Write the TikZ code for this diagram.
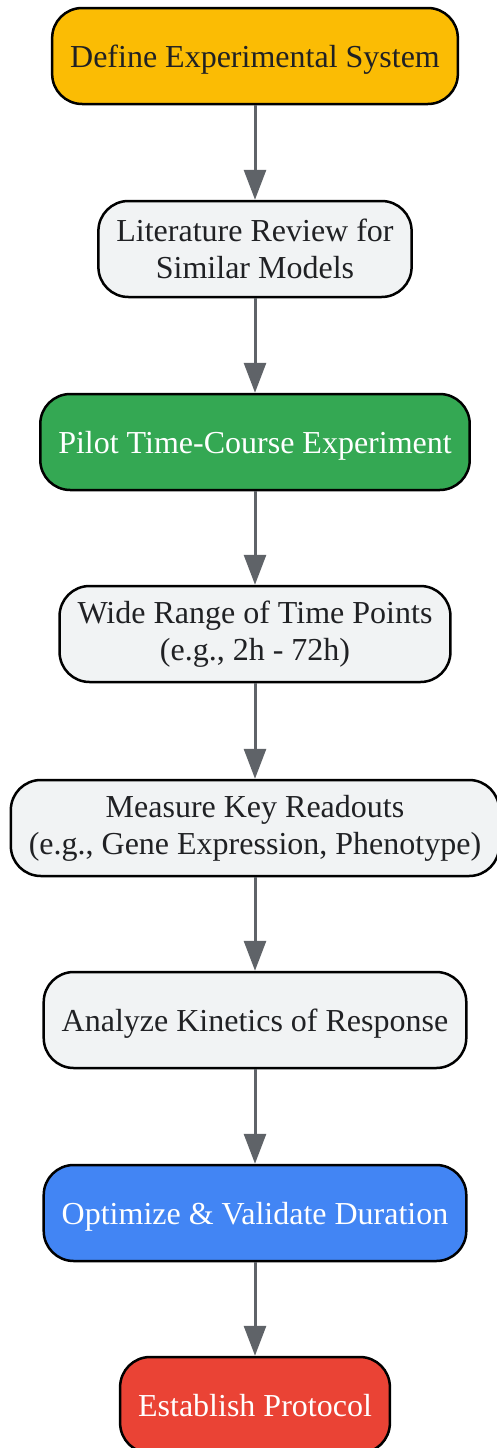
\documentclass[tikz,border=0pt]{standalone}
\usepackage{xcolor}
\usepackage{fontspec}
\setmainfont{Liberation Serif}
\usepackage{tikz}
\usetikzlibrary{arrows.meta}
\definecolor{gyellow}{HTML}{FBBC04}
\definecolor{glight}{HTML}{F1F3F4}
\definecolor{ggreen}{HTML}{34A853}
\definecolor{gblue}{HTML}{4285F4}
\definecolor{gred}{HTML}{EA4335}
\definecolor{gtext}{HTML}{202124}
\definecolor{garrow}{HTML}{5F6368}
\begin{document}
\begin{tikzpicture}[x=1pt, y=-1pt, every node/.style={draw=black, line width=2.5pt, rounded corners=30pt, align=center, inner xsep=18pt, inner ysep=12pt, minimum height=96pt, text=gtext, font=\fontsize{32}{37}\selectfont}, oneline/.style={text depth=0pt}, flow/.style={draw=garrow, line width=3pt, -{Triangle[length=30pt, width=22pt]}}]
  \useasboundingbox (0,0) rectangle (497,1448);
  \node[oneline, fill=gyellow](define) at (255,56) {Define Experimental System};
  \node[fill=glight](litrev) at (255,249) {Literature Review for\\Similar Models};
  \node[oneline, fill=ggreen, text=white](pilot) at (255,442) {Pilot Time-Course Experiment};
  \node[fill=glight](wide) at (255,634) {Wide Range of Time Points\\(e.g., 2h - 72h)};
  \node[fill=glight](measure) at (255,828) {Measure Key Readouts\\(e.g., Gene Expression, Phenotype)};
  \node[oneline, fill=glight](analyze) at (255,1020) {Analyze Kinetics of Response};
  \node[oneline, fill=gblue, text=white](optimize) at (255,1213) {Optimize \& Validate Duration};
  \node[oneline, fill=gred, text=white](establish) at (255,1405) {Establish Protocol};
  \draw[flow] (define) -- (litrev);
  \draw[flow] (litrev) -- (pilot);
  \draw[flow] (pilot) -- (wide);
  \draw[flow] (wide) -- (measure);
  \draw[flow] (measure) -- (analyze);
  \draw[flow] (analyze) -- (optimize);
  \draw[flow] (optimize) -- (establish);
\end{tikzpicture}
\end{document}
